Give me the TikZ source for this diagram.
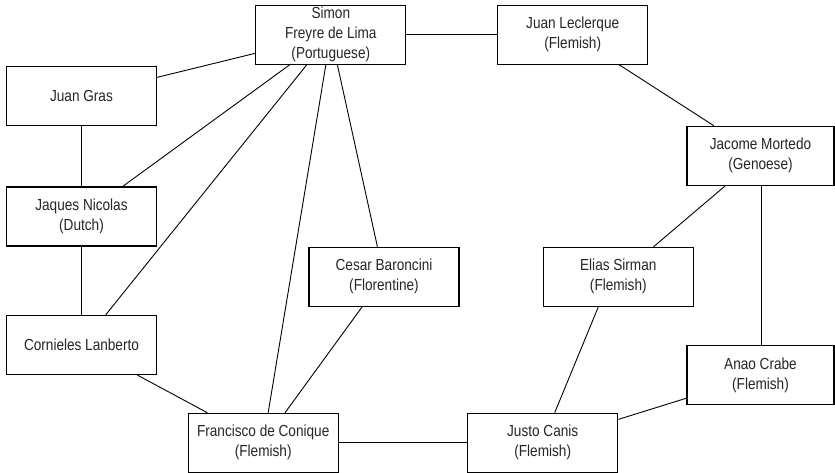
\documentclass[tikz,border=0pt]{standalone}
\usepackage{fontspec}
\setmainfont[FakeStretch=0.85]{Liberation Sans}
\begin{document}
\begin{tikzpicture}[x=1pt,y=-1pt,
  person/.style={draw=black,line width=1.2pt,fill=white,minimum width=150pt,minimum height=59pt,
    inner sep=0pt,align=center,font=\fontsize{16}{20}\selectfont,text=black!85},
  tie/.style={draw=black,line width=0.9pt}]
\useasboundingbox (0,0) rectangle (835,473);

% people
\node[person] (simon) at (330.8,34.8) {Simon\\Freyre de Lima\\(Portuguese)};
\node[person] (leclerque) at (572.7,34.8) {Juan Leclerque\\(Flemish)};
\node[person] (gras) at (81.5,95.8) {Juan Gras};
\node[person] (nicolas) at (81.5,216.5) {Jaques Nicolas\\(Dutch)};
\node[person] (lanberto) at (81.5,345) {Cornieles Lanberto};
\node[person] (conique) at (263.2,442.8) {Francisco de Conique\\(Flemish)};
\node[person] (baroncini) at (384,276.8) {Cesar Baroncini\\(Florentine)};
\node[person] (sirman) at (618.3,276.8) {Elias Sirman\\(Flemish)};
\node[person,minimum width=147pt] (mortedo) at (760.5,155.8) {Jacome Mortedo\\(Genoese)};
\node[person,minimum width=147pt] (crabe) at (760.5,375.2) {Anao Crabe\\(Flemish)};
\node[person] (canis) at (542.7,442.8) {Justo Canis\\(Flemish)};

% ties between them
\draw[tie] (simon) -- (leclerque);
\draw[tie] (simon) -- (gras);
\draw[tie] (simon) -- (nicolas);
\draw[tie] (simon) -- (lanberto);
\draw[tie] (simon) -- (conique);
\draw[tie] (simon) -- (baroncini);
\draw[tie] (gras) -- (nicolas);
\draw[tie] (nicolas) -- (lanberto);
\draw[tie] (lanberto) -- (conique);
\draw[tie] (baroncini) -- (conique);
\draw[tie] (conique) -- (canis);
\draw[tie] (leclerque) -- (mortedo);
\draw[tie] (mortedo) -- (sirman);
\draw[tie] ([xshift=1.2pt]mortedo.south) -- ([xshift=1.2pt]crabe.north);
\draw[tie] ([xshift=-20pt]sirman.south) -- ([xshift=12pt]canis.north);
\draw[tie] (crabe) -- (canis);
\end{tikzpicture}
\end{document}
